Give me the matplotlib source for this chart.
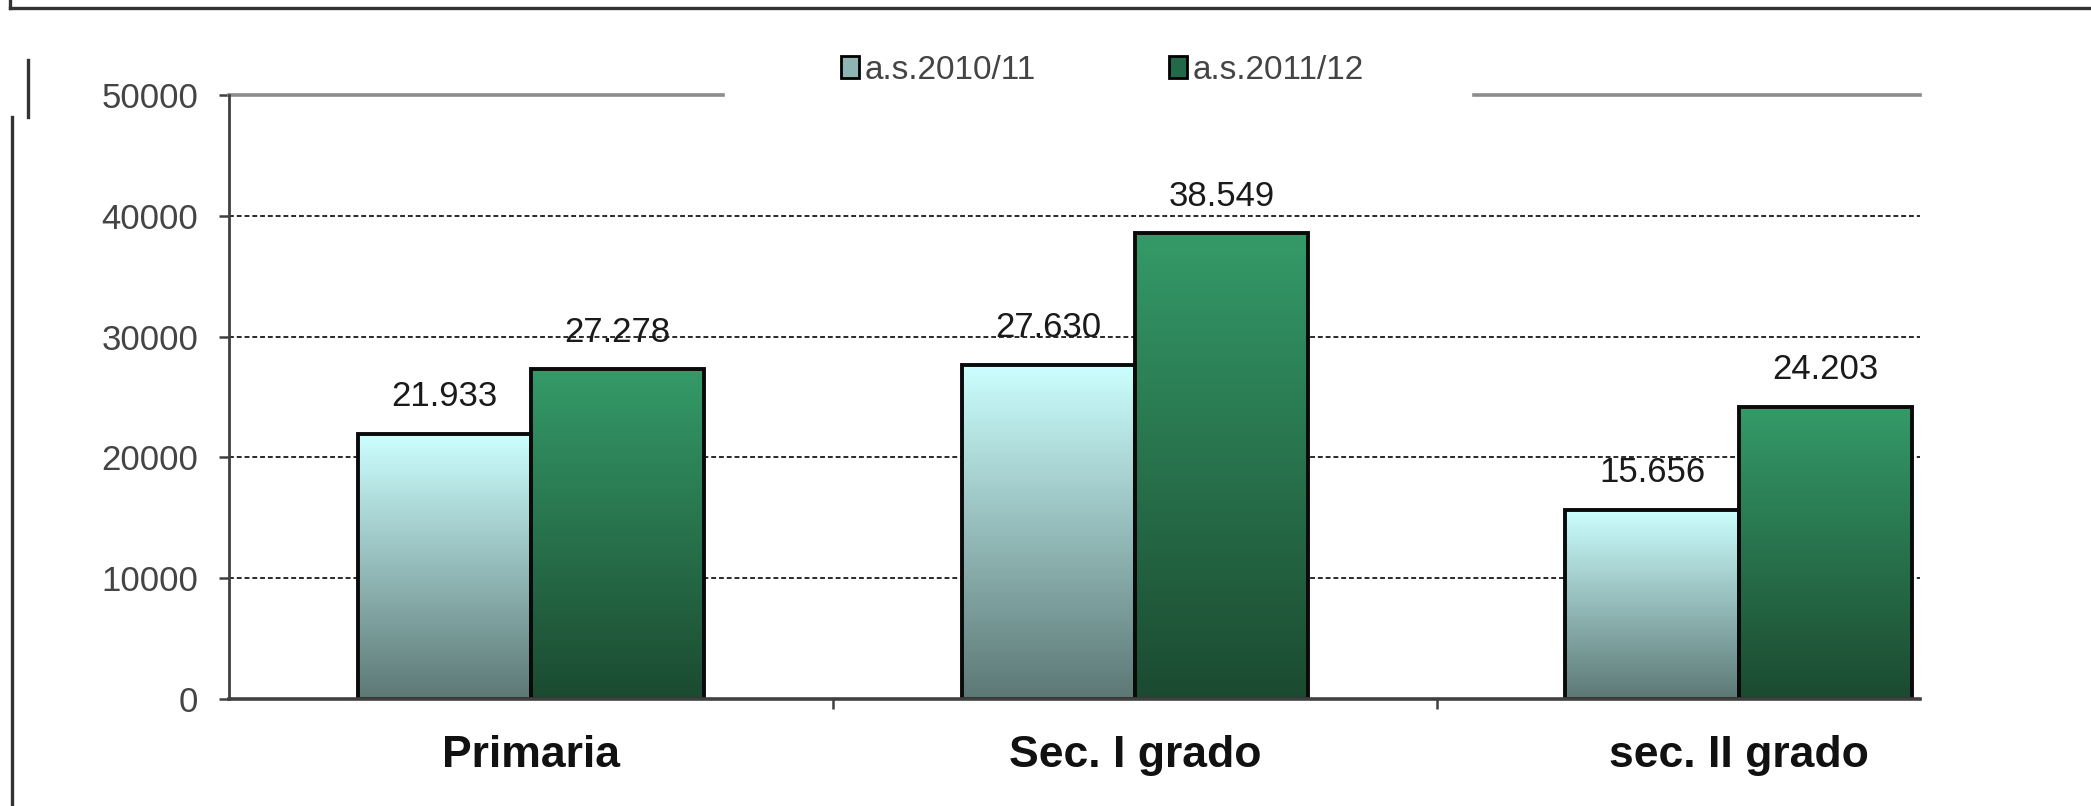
import numpy as np
import matplotlib.pyplot as plt
from matplotlib.colors import LinearSegmentedColormap
from matplotlib.lines import Line2D
from matplotlib.patches import Patch

plt.rcParams['font.family'] = ['Liberation Sans', 'DejaVu Sans']

categories = ['Primaria', 'Sec. I grado', 'sec. II grado']
series_names = ['a.s.2010/11', 'a.s.2011/12']
values_2010 = [21933, 27630, 15656]
values_2011 = [27278, 38549, 24203]
y_ticks = [0, 10000, 20000, 30000, 40000, 50000]

# (bottom, top) colours of the vertical gradient in each series
gradients = [('#5c7875', '#ccffff'), ('#1b4a30', '#349a68')]
legend_colors = ['#8fb5b3', '#24684a']

fig = plt.figure(figsize=(20.91, 8.06), dpi=100)
ax = fig.add_axes([0.1095, 0.1328, 0.8087, 0.7493])

x = np.arange(len(categories))
w = 0.287
ramp = np.linspace(0, 1, 256).reshape(-1, 1)

for k, (vals, (c_bot, c_top)) in enumerate(zip([values_2010, values_2011], gradients)):
    cmap = LinearSegmentedColormap.from_list(f'grad{k}', [c_bot, c_top])
    bars = ax.bar(x + (k - 0.5) * w, vals, w, facecolor='none',
                  edgecolor='#0a0a0a', linewidth=2.8, zorder=4)
    for b, v in zip(bars, vals):
        x0 = b.get_x()
        ax.imshow(ramp, cmap=cmap, origin='lower', aspect='auto',
                  extent=[x0, x0 + w, 0, v], zorder=3)
        ax.annotate(f'{v:,}'.replace(',', '.'), (x0 + w / 2, v),
                    xytext=(0, 20), textcoords='offset points',
                    ha='center', va='baseline', fontsize=25, color='#1a1a1a')

# dashed gridlines
for yv in y_ticks[1:-1]:
    ax.axhline(yv, ls=(0, (2.5, 1.5)), color='#2a2a2a', lw=1.4, zorder=1)

# plot-area top border, interrupted behind the legend
for a, b in [(0, 0.292), (0.736, 1)]:
    ax.plot([a, b], [1, 1], transform=ax.transAxes, color='#8c8c8c',
            lw=2.6, clip_on=False, zorder=2)

ax.set_xlim(-0.5, 2.30)
ax.set_ylim(0, 50000)
ax.set_yticks(y_ticks, [str(t) for t in y_ticks])
ax.set_xticks(x, categories, fontsize=32, fontweight='bold')
ax.set_xticks([0.5, 1.5], minor=True)

ax.tick_params(axis='y', length=7, width=1.8, color='#404040', pad=15,
               labelsize=25, labelcolor='#444444')
ax.tick_params(axis='x', which='major', length=0, pad=26, labelcolor='#111111')
ax.tick_params(axis='x', which='minor', length=7, width=1.8, color='#404040')

for s in ['top', 'right']:
    ax.spines[s].set_visible(False)
ax.spines['left'].set_color('#404040')
ax.spines['left'].set_linewidth(2.0)
ax.spines['bottom'].set_color('#404040')
ax.spines['bottom'].set_linewidth(2.6)
ax.spines['bottom'].set_zorder(5)

handles = [Patch(facecolor=c, edgecolor='black', linewidth=2) for c in legend_colors]
fig.legend(handles, series_names, loc='center', bbox_to_anchor=(0.5272, 0.913),
           ncol=2, frameon=False, fontsize=24, labelcolor='#444444',
           handlelength=0.55, handleheight=0.65, handletextpad=0.15,
           columnspacing=4.0)

# frame lines around the chart
frame = dict(transform=fig.transFigure, color='#333333', lw=2.4)
fig.add_artist(Line2D([0.0048, 1.0], [0.99, 0.99], **frame))
fig.add_artist(Line2D([0.0048, 0.0048], [0.99, 1.0], **frame))
fig.add_artist(Line2D([0.0055, 0.0055], [0.0, 0.855], **frame))
fig.add_artist(Line2D([0.0136, 0.0136], [0.855, 0.926], **frame))

fig.savefig('out.png', dpi=100)
